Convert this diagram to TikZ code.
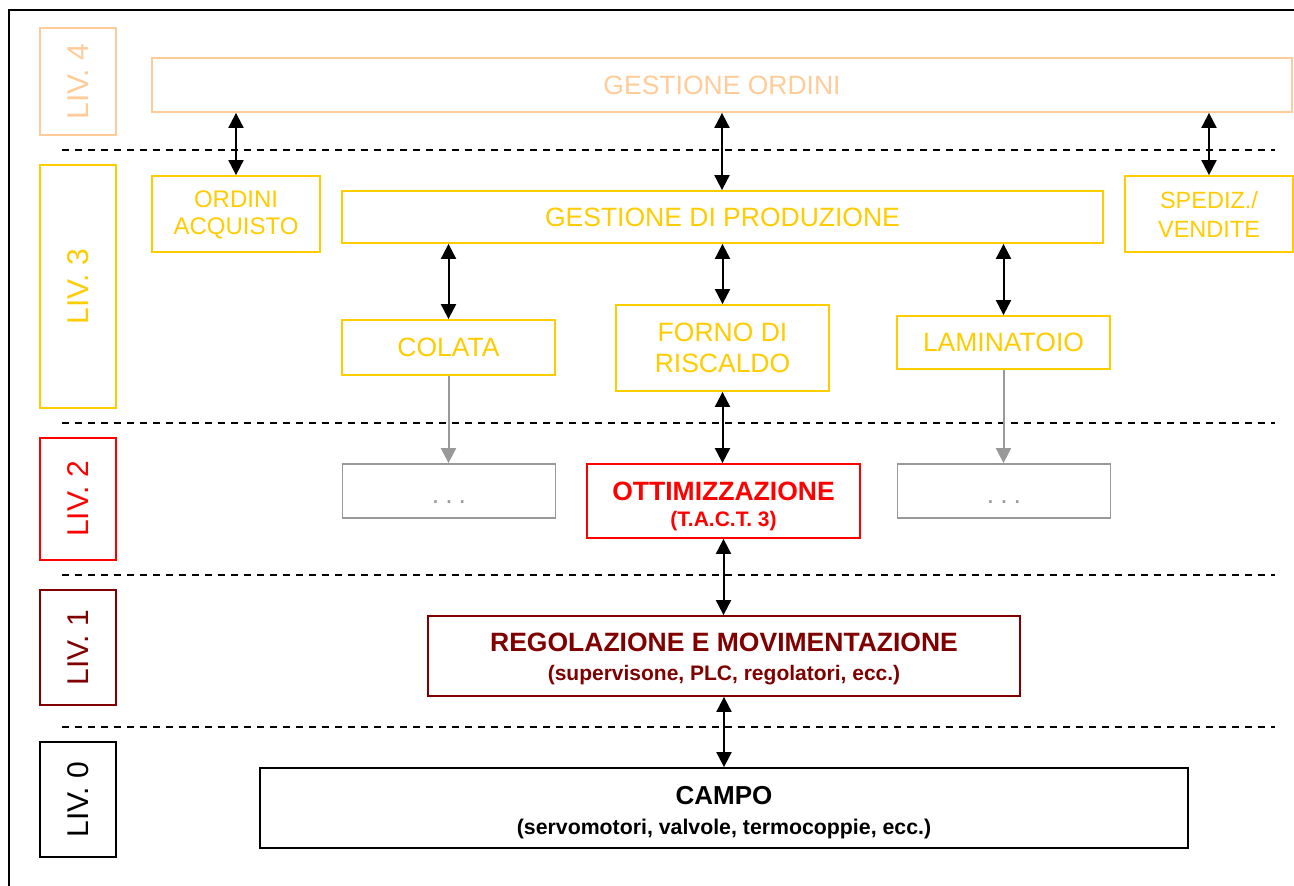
\documentclass[tikz,border=0pt]{standalone}
\usepackage{fontspec}
\setmainfont{Liberation Sans}
\usetikzlibrary{arrows.meta}
\definecolor{peach}{HTML}{FFCC99}
\definecolor{gold}{HTML}{FFCC00}
\definecolor{lvred}{HTML}{FF0000}
\definecolor{dred}{HTML}{800000}
\definecolor{greyc}{HTML}{999999}
\begin{document}
\begin{tikzpicture}[x=1pt,y=-1pt,
  box/.style={draw, rectangle, line width=1.8pt, inner sep=0pt, align=center},
  lvl/.style={box, rotate=90, minimum height=76pt, font=\fontsize{30}{30}\selectfont},
  reg/.style={font=\fontsize{26.5}{31}\selectfont},
  dbl/.style={{Triangle[length=15pt,width=15pt]}-{Triangle[length=15pt,width=15pt]}, line width=2pt, black},
  gar/.style={-{Triangle[length=15pt,width=15pt]}, line width=2pt, greyc},
  sep/.style={line width=1.6pt, dash pattern=on 7pt off 6pt}
]
\useasboundingbox (0,0) rectangle (1294,886);
\fill[white] (0,0) rectangle (1294,886);
% outer frame
\draw[line width=2pt] (9,886) -- (9,10) -- (1294,10);

% level labels
\node[lvl, draw=peach, text=peach, minimum width=107pt] (l4) at (78,81.5) {LIV. 4};
\node[lvl, draw=gold, text=gold, minimum width=243pt] (l3) at (78,286.5) {LIV. 3};
\node[lvl, draw=lvred, text=lvred, minimum width=122pt] (l2) at (78,499) {LIV. 2};
\node[lvl, draw=dred, text=dred, minimum width=115pt] (l1) at (78,647.5) {LIV. 1};
\node[lvl, draw=black, text=black, minimum width=115pt] (l0) at (78,799.5) {LIV. 0};

% separators
\foreach \yy in {150,423,575,727} \draw[sep] (62,\yy) -- (1275,\yy);

% level 4
\node[box, reg, draw=peach, text=peach, minimum width=1140pt, minimum height=54pt] (go) at (722,85) {GESTIONE ORDINI};

% level 3
\node[box, draw=gold, text=gold, font=\fontsize{24}{27}\selectfont, minimum width=168pt, minimum height=76pt] (oa) at (236,214) {\rule{0pt}{19pt}ORDINI\\ACQUISTO};
\node[box, reg, draw=gold, text=gold, minimum width=761pt, minimum height=52pt] (gp) at (722.5,217) {GESTIONE DI PRODUZIONE};
\node[box, draw=gold, text=gold, font=\fontsize{23.5}{29}\selectfont, minimum width=168pt, minimum height=76pt] (sv) at (1209,214) {SPEDIZ./\\VENDITE};
\node[box, reg, draw=gold, text=gold, minimum width=213pt, minimum height=55pt] (col) at (448.5,347.5) {COLATA};
\node[box, draw=gold, text=gold, font=\fontsize{26.5}{31.5}\selectfont, minimum width=213pt, minimum height=86pt] (fr) at (722.5,348) {FORNO DI\\RISCALDO};
\node[box, reg, draw=gold, text=gold, minimum width=213pt, minimum height=53pt] (lam) at (1003.5,342.5) {LAMINATOIO};

% level 2
\node[box, reg, draw=greyc, text=greyc, minimum width=213pt, minimum height=54pt] (d1) at (449,491) {\rule{0pt}{24pt}.\kern6pt.\kern6pt.};
\node[box, draw=lvred, text=lvred, font=\bfseries\fontsize{21}{26}\selectfont, minimum width=273pt, minimum height=74pt] (ot) at (723.5,501) {\rule{0pt}{29.8pt}{\fontsize{26.5}{26}\selectfont OTTIMIZZAZIONE}\\(T.A.C.T. 3)};
\node[box, reg, draw=greyc, text=greyc, minimum width=213pt, minimum height=54pt] (d2) at (1004,491) {\rule{0pt}{24pt}.\kern6pt.\kern6pt.};

% level 1
\node[box, draw=dred, text=dred, font=\bfseries\fontsize{21}{29}\selectfont, minimum width=592pt, minimum height=80pt] (rm) at (724,656) {\rule{0pt}{25.4pt}{\fontsize{26.5}{29}\selectfont REGOLAZIONE E MOVIMENTAZIONE}\\(supervisone, PLC, regolatori, ecc.)};

% level 0
\node[box, draw=black, text=black, font=\bfseries\fontsize{21.3}{30}\selectfont, minimum width=928pt, minimum height=80pt] (ca) at (724,808) {\rule{0pt}{27.8pt}{\fontsize{26}{30}\selectfont CAMPO}\\(servomotori, valvole, termocoppie, ecc.)};

% connectors
\draw[dbl] (oa.north) -- (oa.north |- go.south);
\draw[dbl] (go.south) -- (go.south |- gp.north);
\draw[dbl] (sv.north) -- (sv.north |- go.south);
\draw[dbl] (gp.south -| col.north) -- (col.north);
\draw[dbl] (gp.south -| fr.north) -- (fr.north);
\draw[dbl] (gp.south -| lam.north) -- (lam.north);
\draw[gar] (col.south) -- (col.south |- d1.north);
\draw[gar] (lam.south) -- (lam.south |- d2.north);
\draw[dbl] (fr.south) -- (fr.south |- ot.north);
\draw[dbl] (ot.south) -- (ot.south |- rm.north);
\draw[dbl] (rm.south) -- (rm.south |- ca.north);
\end{tikzpicture}
\end{document}
